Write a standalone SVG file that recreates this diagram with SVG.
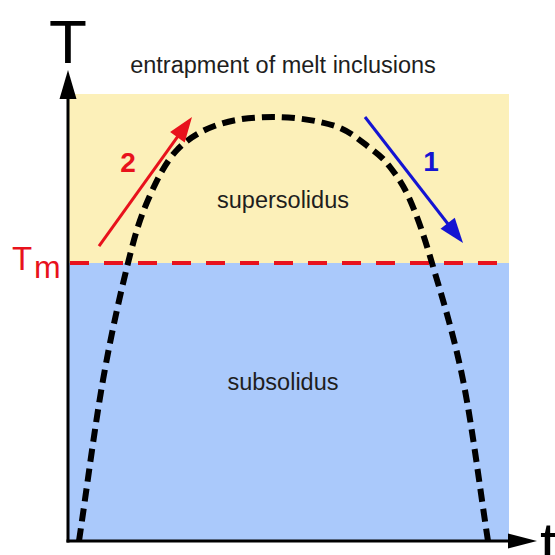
<svg xmlns="http://www.w3.org/2000/svg" width="555" height="555" viewBox="0 0 555 555">
<style>
.lbl{font-family:"Liberation Sans",Arial,sans-serif;fill:#1e1e1e;}
.ax{font-family:"Liberation Sans",Arial,sans-serif;fill:#000;}
.num{font-family:"Liberation Sans",Arial,sans-serif;font-weight:bold;font-size:28px;text-anchor:middle;}
</style>
<rect width="555" height="555" fill="#fff"/>
<g id="supersolidus-region">
<rect x="68" y="94" width="441" height="169" fill="#fcf0b9"/>
<text class="lbl" x="283" y="208" font-size="23.5" text-anchor="middle">supersolidus</text>
</g>
<g id="subsolidus-region">
<rect x="68" y="263" width="441" height="278" fill="#aac9fb"/>
<text class="lbl" x="283" y="390" font-size="23.5" text-anchor="middle">subsolidus</text>
</g>
<text class="lbl" id="title" x="283" y="73" font-size="23.5" text-anchor="middle">entrapment of melt inclusions</text>
<g id="tm-line">
<line x1="70" y1="263" x2="509" y2="263" stroke="#e8121c" stroke-width="4" stroke-dasharray="19 15"/>
<text x="12" y="270" font-family="Liberation Sans,Arial,sans-serif" font-size="33" fill="#e8121c">T</text>
<text x="34" y="278" font-family="Liberation Sans,Arial,sans-serif" font-size="32" fill="#e8121c">m</text>
</g>
<g id="path-curve">
<path d="M79,541 C87,487.3 94.8,426.3 103,380 C111.2,333.7 120.5,293 128,263 C135.5,233 139.8,218.8 148,200 C156.2,181.2 165,162.7 177,150 C189,137.3 203.3,129.5 220,124 C236.7,118.5 257.8,116.7 277,117 C296.2,117.3 319.5,120.8 335,126 C350.5,131.2 360.8,141.2 370,148 C379.2,154.8 383.3,158.3 390,167 C396.7,175.7 403,184 410,200 C417,216 423.2,233 432,263 C440.8,293 453.7,333.7 463,380 C472.3,426.3 479.7,487.3 488,541" fill="none" stroke="#000" stroke-width="6" stroke-dasharray="13 7"/>
</g>
<g id="connectors">
<g id="arrow-2">
<line x1="99" y1="246" x2="178" y2="136" stroke="#e8121c" stroke-width="3"/>
<polygon points="192,117 184.7,142.6 170.1,132" fill="#e8121c"/>
<text class="num" x="128" y="172" fill="#e8121c">2</text>
</g>
<g id="arrow-1">
<line x1="365" y1="117" x2="448" y2="224" stroke="#1414d2" stroke-width="3"/>
<polygon points="463,243 440.5,228.8 454.75,217.8" fill="#1414d2"/>
<text class="num" x="431" y="171" fill="#1414d2">1</text>
</g>
</g>
<g id="axes">
<line x1="68" y1="542.5" x2="68" y2="97" stroke="#000" stroke-width="3"/>
<polygon points="68,70 59.5,99 76.5,99" fill="#000"/>
<line x1="66.5" y1="541" x2="510" y2="541" stroke="#000" stroke-width="3"/>
<polygon points="537,541 508,533.5 508,548.5" fill="#000"/>
<text class="ax" x="68" y="63" font-size="62" text-anchor="middle">T</text>
<text class="ax" x="540" y="565" font-size="62">t</text>
</g>
</svg>
